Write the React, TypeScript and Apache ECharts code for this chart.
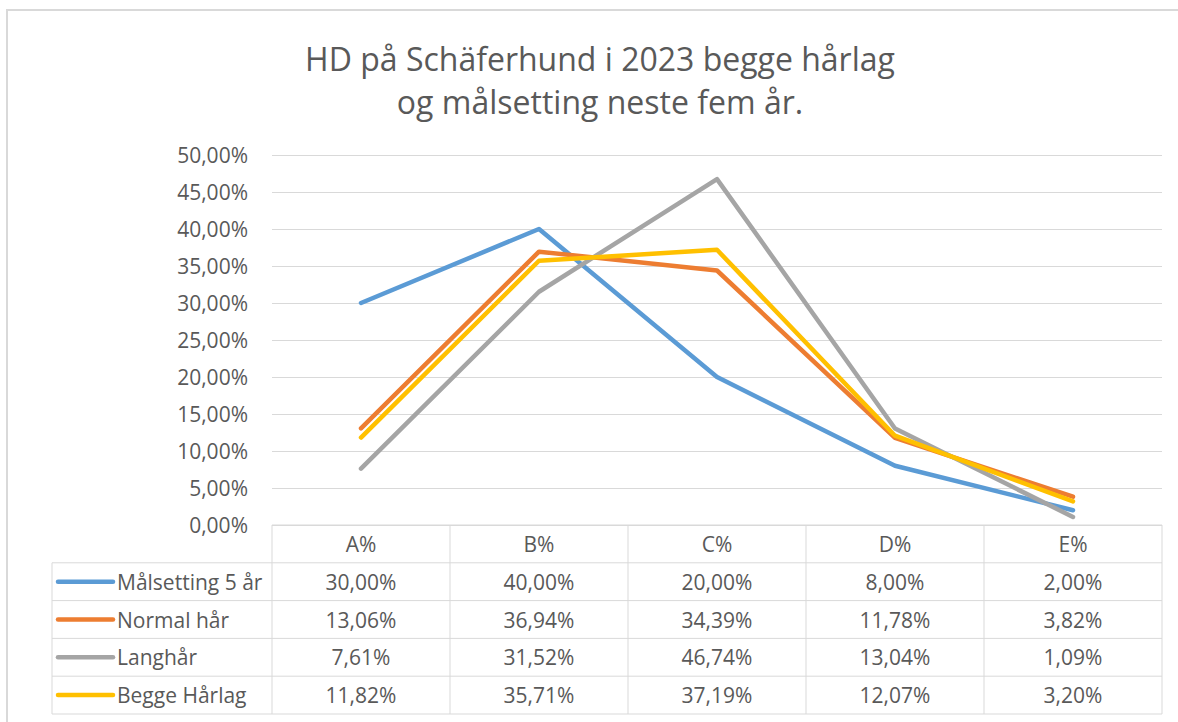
import React, { useEffect, useRef } from 'react';
import * as echarts from 'echarts';

const categories = ['A%', 'B%', 'C%', 'D%', 'E%'];
const seriesNames = ['Målsetting 5 år', 'Normal hår', 'Langhår', 'Begge Hårlag'];
const malsetting5 = [30.0, 40.0, 20.0, 8.0, 2.0];
const normalHar = [13.06, 36.94, 34.39, 11.78, 3.82];
const langhar = [7.61, 31.52, 46.74, 13.04, 1.09];
const beggeHarlag = [11.82, 35.71, 37.19, 12.07, 3.2];
const seriesValues = [malsetting5, normalHar, langhar, beggeHarlag];
const colors = ['#5B9BD5', '#ED7D31', '#A5A5A5', '#FFC000'];
const titleLines = ['HD på Schäferhund i 2023 begge hårlag', 'og målsetting neste fem år.'];
const yMin = 0;
const yMax = 50;
const yInterval = 5;

const FONT = '"Open Sans", "Noto Sans", sans-serif';
const TEXT = '#595959';
const BORDER = '#D9D9D9';

const fmt = (v: number) => v.toFixed(2).replace('.', ',') + '%';

export default function App() {
  const ref = useRef<HTMLDivElement>(null);
  useEffect(() => {
    if (!ref.current) return;
    const chart = echarts.init(ref.current, null, { renderer: 'svg' });

    const W = 1178;
    const gridL = 272;
    const gridR = 1162;
    const gridT = 155;
    const gridB = 525;
    const tableL = 52;
    const rowH = 37.8;
    const colW = (gridR - gridL) / categories.length;
    const nRows = seriesNames.length;
    const tableBottom = gridB + rowH * (nRows + 1);
    const fs = 21;

    const lineStyle = { stroke: BORDER, lineWidth: 1 };
    const g: any[] = [];
    // outer border
    g.push({ type: 'rect', shape: { x: 7, y: 10, width: 1300, height: 900 }, style: { fill: 'none', stroke: BORDER, lineWidth: 2 }, silent: true });
    // title
    g.push({ type: 'text', x: 600, y: 58, style: { text: titleLines[0], font: `32px ${FONT}`, fill: TEXT, align: 'center', verticalAlign: 'middle' } });
    g.push({ type: 'text', x: 600, y: 101, style: { text: titleLines[1], font: `32px ${FONT}`, fill: TEXT, align: 'center', verticalAlign: 'middle' } });
    // table horizontal lines
    g.push({ type: 'line', shape: { x1: gridL, y1: gridB, x2: gridR, y2: gridB }, style: lineStyle });
    for (let r = 1; r <= nRows + 1; r++) {
      const y = gridB + rowH * r;
      g.push({ type: 'line', shape: { x1: tableL, y1: y, x2: gridR, y2: y }, style: lineStyle });
    }
    // vertical lines
    g.push({ type: 'line', shape: { x1: tableL, y1: gridB + rowH, x2: tableL, y2: tableBottom }, style: lineStyle });
    for (let c = 0; c <= categories.length; c++) {
      const x = gridL + colW * c;
      g.push({ type: 'line', shape: { x1: x, y1: gridB, x2: x, y2: tableBottom }, style: lineStyle });
    }
    // header labels
    categories.forEach((cat, c) => {
      g.push({ type: 'text', x: gridL + colW * (c + 0.5), y: gridB + rowH / 2, style: { text: cat, font: `${fs}px ${FONT}`, fill: TEXT, align: 'center', verticalAlign: 'middle' } });
    });
    // rows
    seriesNames.forEach((name, r) => {
      const cy = gridB + rowH * (r + 1.5);
      g.push({ type: 'line', shape: { x1: 58, y1: cy, x2: 113, y2: cy }, style: { stroke: colors[r], lineWidth: 4.5, lineCap: 'round' } });
      g.push({ type: 'text', x: 117, y: cy, style: { text: name, font: `${fs}px ${FONT}`, fill: TEXT, align: 'left', verticalAlign: 'middle' } });
      seriesValues[r].forEach((v, c) => {
        g.push({ type: 'text', x: gridL + colW * (c + 0.5), y: cy, style: { text: fmt(v), font: `${fs}px ${FONT}`, fill: TEXT, align: 'center', verticalAlign: 'middle' } });
      });
    });

    chart.setOption({
      animation: false,
      backgroundColor: '#FFFFFF',
      grid: { left: gridL, right: W - gridR, top: gridT, bottom: 722 - gridB, containLabel: false },
      xAxis: {
        type: 'category',
        data: categories,
        boundaryGap: true,
        axisLine: { show: false },
        axisTick: { show: false },
        axisLabel: { show: false },
        splitLine: { show: false },
      },
      yAxis: {
        type: 'value',
        min: yMin,
        max: yMax,
        interval: yInterval,
        axisLine: { show: false },
        axisTick: { show: false },
        axisLabel: { formatter: (v: number) => fmt(v), color: TEXT, fontSize: fs, fontFamily: FONT, margin: 24 },
        splitLine: { lineStyle: { color: BORDER, width: 1 } },
      },
      series: seriesNames.map((name, i) => ({
        name,
        type: 'line',
        data: seriesValues[i],
        symbol: 'none',
        lineStyle: { color: colors[i], width: 4.5, cap: 'round', join: 'round' },
        itemStyle: { color: colors[i] },
        z: 3 + i,
      })),
      graphic: g,
    });
    return () => chart.dispose();
  }, []);
  return <div ref={ref} style={{ position: 'fixed', left: 0, top: 0, width: 1178, height: 722 }} />;
}
